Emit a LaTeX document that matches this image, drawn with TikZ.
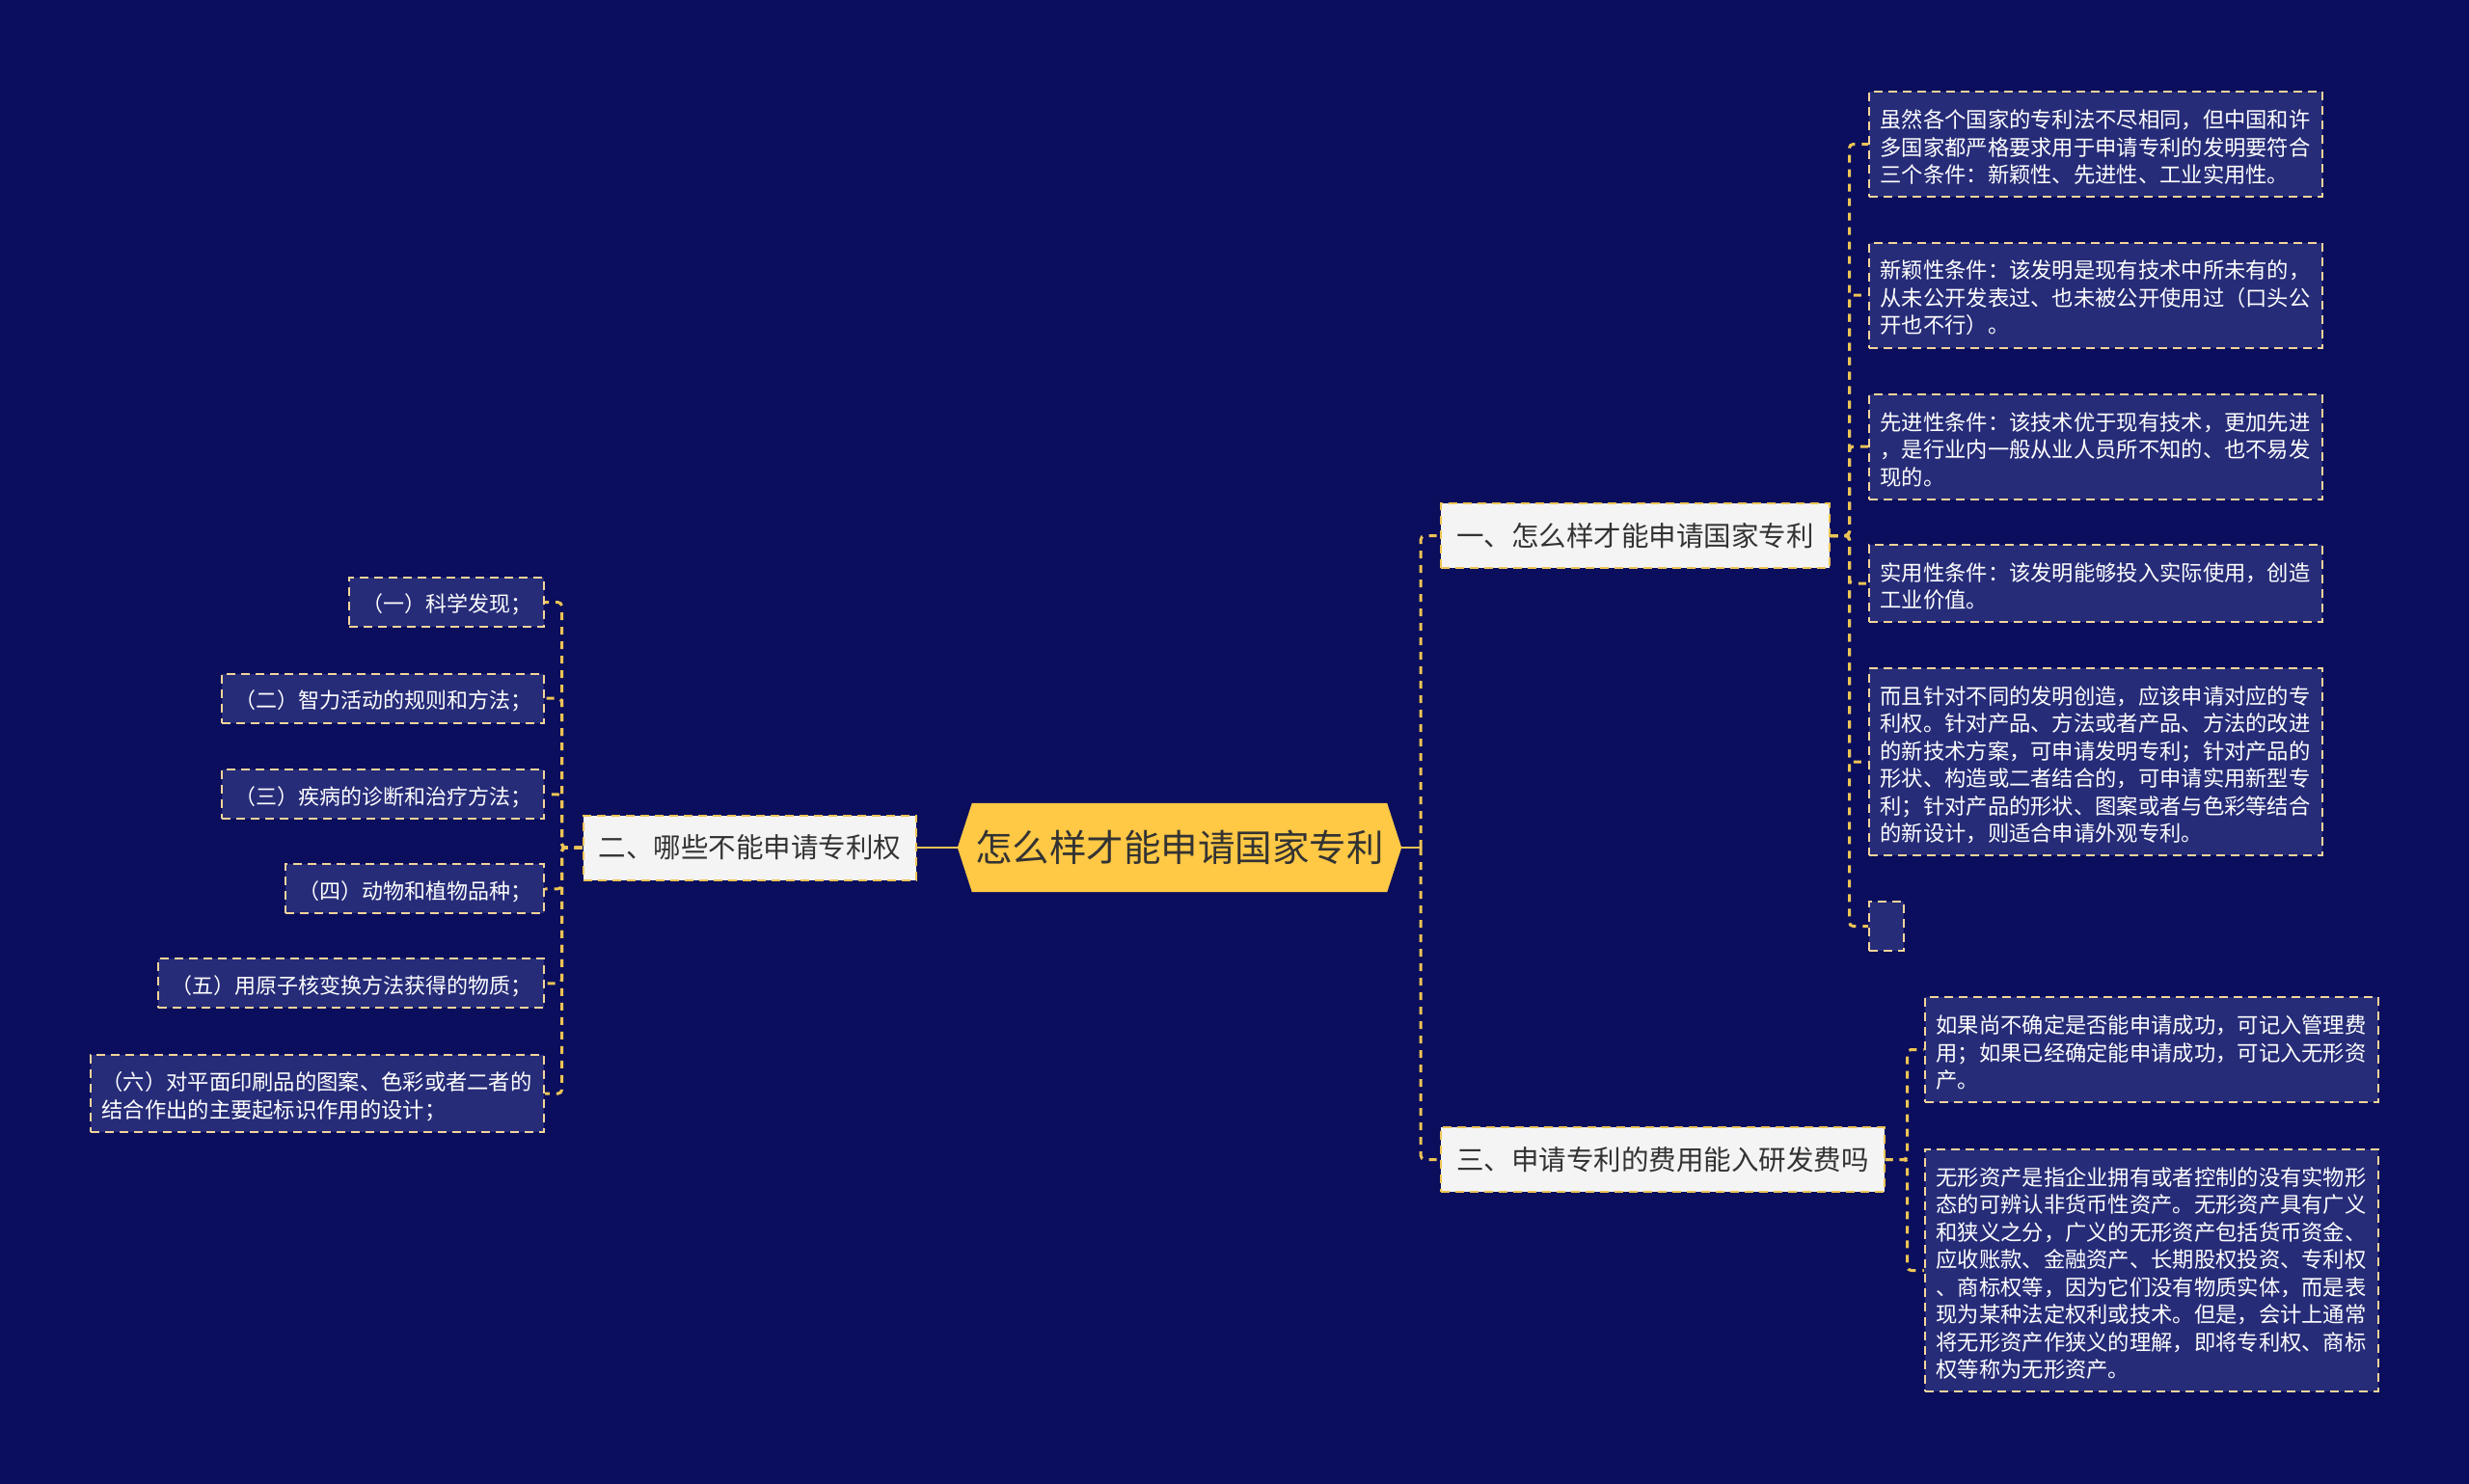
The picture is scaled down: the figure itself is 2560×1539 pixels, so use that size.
\documentclass[tikz,border=0pt]{standalone}
\usepackage{fontspec}
\newfontfamily\cjk{Noto Sans CJK SC}
\usetikzlibrary{positioning}
\pgfdeclarelayer{background}
\pgfsetlayers{background,main}
\definecolor{bgc}{HTML}{0A0E5C}
\definecolor{leaffill}{HTML}{262C78}
\definecolor{bord}{HTML}{F3D49A}
\definecolor{linkc}{HTML}{ECC455}
\definecolor{hexc}{HTML}{FFC845}
\definecolor{darktext}{HTML}{333333}
\definecolor{brfill}{HTML}{F4F4F4}
\tikzset{
  leaf/.style={draw=bord, dash pattern=on 9pt off 6pt, line width=2pt, fill=leaffill, text=white,
    font=\cjk\fontsize{22.3}{28.5}\selectfont, align=left, text width=447pt, inner xsep=11.5pt, inner ysep=0pt,
    execute at begin node={\rule{0pt}{25pt}}},
  leafL/.style={draw=bord, dash pattern=on 9pt off 6pt, line width=2pt, fill=leaffill, text=white,
    font=\cjk\fontsize{22}{28.5}\selectfont, inner xsep=13pt, inner ysep=0pt, minimum height=51pt, anchor=east,
    execute at begin node={\rule{0pt}{24pt}}},
  branch/.style={draw=linkc, dash pattern=on 9pt off 6pt, line width=2pt, fill=brfill, text=darktext,
    font=\cjk\fontsize{28.5}{34}\selectfont, inner xsep=16pt, inner ysep=0pt, minimum height=67pt},
  roottext/.style={text=darktext, font=\cjk\fontsize{38.5}{44}\selectfont, minimum width=460pt, minimum height=92pt, inner sep=0pt},
  link/.style={draw=linkc, line width=2.5pt},
  dlink/.style={draw=linkc, line width=3pt, dash pattern=on 8pt off 7pt, rounded corners=4pt},
}
\begin{document}
\begin{tikzpicture}[x=1pt,y=-1pt]
\begin{pgfonlayer}{background}
\fill[bgc] (0,0) rectangle (2560,1539);
\end{pgfonlayer}
\useasboundingbox (0,0) rectangle (2560,1539);

% root
\node[roottext] (root) at (1223,879) {怎么样才能申请国家专利};
\begin{pgfonlayer}{background}
\fill[hexc] (root.west) -- ([xshift=15pt]root.north west) -- ([xshift=-15pt]root.north east) -- (root.east)
  -- ([xshift=-15pt]root.south east) -- ([xshift=15pt]root.south west) -- cycle;
\end{pgfonlayer}

% branches
\node[branch, anchor=west] (b1) at (1493,555.5) {一、怎么样才能申请国家专利};
\node[branch, anchor=east] (b2) at (951,879) {二、哪些不能申请专利权};
\node[branch, anchor=west] (b3) at (1493,1202.5) {三、申请专利的费用能入研发费吗};

% right leaves of branch 1
\node[leaf, anchor=west, minimum height=109pt] (a1) at (1937,149.5) {虽然各个国家的专利法不尽相同，但中国和许\\多国家都严格要求用于申请专利的发明要符合\\三个条件：新颖性、先进性、工业实用性。};
\node[leaf, anchor=west, minimum height=109pt] (a2) at (1937,306) {新颖性条件：该发明是现有技术中所未有的，\\从未公开发表过、也未被公开使用过（口头公\\开也不行）。};
\node[leaf, anchor=west, minimum height=109pt] (a3) at (1937,463) {先进性条件：该技术优于现有技术，更加先进\\，是行业内一般从业人员所不知的、也不易发\\现的。};
\node[leaf, anchor=west, minimum height=80pt] (a4) at (1937,605) {实用性条件：该发明能够投入实际使用，创造\\工业价值。};
\node[leaf, anchor=west, minimum height=194pt] (a5) at (1937,790) {而且针对不同的发明创造，应该申请对应的专\\利权。针对产品、方法或者产品、方法的改进\\的新技术方案，可申请发明专利；针对产品的\\形状、构造或二者结合的，可申请实用新型专\\利；针对产品的形状、图案或者与色彩等结合\\的新设计，则适合申请外观专利。};
\node[draw=bord, dash pattern=on 9pt off 6pt, line width=2pt, fill=leaffill, anchor=west, minimum width=36pt, minimum height=51pt, inner sep=0pt] (a6) at (1937,960.5) {};

% leaves of branch 3
\node[leaf, anchor=west, minimum height=109pt] (c1) at (1995,1088.5) {如果尚不确定是否能申请成功，可记入管理费\\用；如果已经确定能申请成功，可记入无形资\\产。};
\node[leaf, anchor=west, minimum height=251pt] (c2) at (1995,1317.5) {无形资产是指企业拥有或者控制的没有实物形\\态的可辨认非货币性资产。无形资产具有广义\\和狭义之分，广义的无形资产包括货币资金、\\应收账款、金融资产、长期股权投资、专利权\\、商标权等，因为它们没有物质实体，而是表\\现为某种法定权利或技术。但是，会计上通常\\将无形资产作狭义的理解，即将专利权、商标\\权等称为无形资产。};

% left leaves of branch 2
\node[leafL] (l1) at (565,624.6) {（一）科学发现；};
\node[leafL] (l2) at (565,724.2) {（二）智力活动的规则和方法；};
\node[leafL] (l3) at (565,823.9) {（三）疾病的诊断和治疗方法；};
\node[leafL] (l4) at (565,921.8) {（四）动物和植物品种；};
\node[leafL] (l5) at (565,1019.8) {（五）用原子核变换方法获得的物质；};
\node[leaf, anchor=east, minimum height=80pt] (l6) at (565,1134.1) {（六）对平面印刷品的图案、色彩或者二者的\\结合作出的主要起标识作用的设计；};

% connectors
\draw[link] (root.west) -- (b2.east);
\draw[link] (root.east) -- ++(20,0) coordinate (rj);
\draw[dlink] (rj) |- (b1.west);
\draw[dlink] (rj) |- (b3.west);

\foreach \n in {a1,a2,a3,a4,a5,a6}
  \draw[dlink] (b1.east) -- ++(20,0) |- (\n.west);
\foreach \n in {c1,c2}
  \draw[dlink] (b3.east) -- ++(23,0) |- (\n.west);
\foreach \n in {l1,l2,l3,l4,l5,l6}
  \draw[dlink] (b2.west) -- ++(-21,0) |- (\n.east);
\end{tikzpicture}
\end{document}
